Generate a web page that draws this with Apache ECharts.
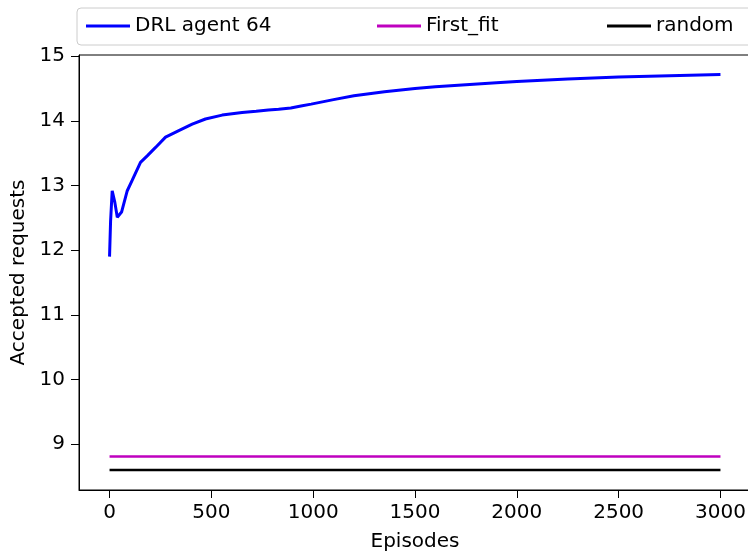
<!DOCTYPE html>
<html>
<head>
<meta charset="utf-8">
<script src="https://cdn.jsdelivr.net/npm/echarts@6/dist/echarts.min.js"></script>
<style>
  html, body { margin: 0; padding: 0; background: #fff; }
  #chart { width: 748px; height: 557px; }
</style>
</head>
<body>
<div id="chart"></div>
<script>
  // values
  const episodes = [0, 5, 13, 26, 38, 59, 87, 111, 152, 185, 226, 275, 340, 406, 471, 553, 651, 720, 780, 830, 890, 940, 990, 1100, 1200, 1350, 1500, 1600, 1750, 1900, 2000, 2250, 2500, 2750, 3000];
  const drlAgent = [11.9, 12.44, 12.92, 12.74, 12.51, 12.59, 12.92, 13.08, 13.36, 13.46, 13.59, 13.75, 13.85, 13.95, 14.03, 14.09, 14.13, 14.15, 14.17, 14.18, 14.2, 14.23, 14.26, 14.33, 14.39, 14.45, 14.5, 14.53, 14.56, 14.59, 14.61, 14.65, 14.68, 14.7, 14.72];
  const flatEpisodes = [0, 3000];
  const firstFit = [8.81, 8.81];
  const randomPolicy = [8.6, 8.6];
  const xTicks = [0, 500, 1000, 1500, 2000, 2500, 3000];
  const yTicks = [9, 10, 11, 12, 13, 14, 15];

  const pairs = (xs, ys) => xs.map((x, i) => [x, ys[i]]);
  const font = 'DejaVu Sans';

  const chart = echarts.init(document.getElementById('chart'));
  const legendBase = {
    top: 16,
    icon: 'rect',
    itemWidth: 44,
    itemHeight: 3,
    textStyle: { fontFamily: font, fontSize: 20, color: '#000' },
    padding: 0
  };
  const option = {
    animation: false,
    backgroundColor: '#fff',
    graphic: [{
      type: 'rect',
      shape: { x: 77, y: 8, width: 690, height: 37, r: 4 },
      style: { fill: '#fff', stroke: '#cccccc', lineWidth: 1 },
      z: -1
    }],
    legend: [
      Object.assign({ left: 86, data: ['DRL agent 64'] }, legendBase),
      Object.assign({ left: 377, data: ['First_fit'] }, legendBase),
      Object.assign({ left: 607, data: ['random'] }, legendBase)
    ],
    grid: {
      left: 79, top: 55, width: 672, height: 435,
      outerBoundsMode: 'none',
      containLabel: false,
      show: true, borderColor: '#000', borderWidth: 1
    },
    xAxis: {
      type: 'value',
      min: -150, max: 3150,
      name: 'Episodes',
      nameLocation: 'middle',
      nameGap: 42,
      nameTextStyle: { fontFamily: font, fontSize: 20, color: '#000' },
      axisLine: { onZero: false, lineStyle: { color: '#000', width: 1 } },
      axisTick: { customValues: xTicks, length: 8, lineStyle: { color: '#000' } },
      axisLabel: { customValues: xTicks, margin: 13, fontFamily: font, fontSize: 20, color: '#000',
        formatter: v => String(v) },
      splitLine: { show: false }
    },
    yAxis: {
      type: 'value',
      min: 8.29, max: 15.02,
      name: 'Accepted requests',
      nameLocation: 'middle',
      nameGap: 48,
      nameTextStyle: { fontFamily: font, fontSize: 20, color: '#000' },
      axisLine: { show: true, onZero: false, lineStyle: { color: '#000', width: 1 } },
      axisTick: { show: true, customValues: yTicks, length: 8, lineStyle: { color: '#000' } },
      axisLabel: { customValues: yTicks, margin: 14, fontFamily: font, fontSize: 20, color: '#000',
        formatter: v => String(v) },
      splitLine: { show: false }
    },
    series: [
      {
        name: 'DRL agent 64', type: 'line', showSymbol: false, symbol: 'none',
        data: pairs(episodes, drlAgent),
        itemStyle: { color: '#0000ff' },
        lineStyle: { color: '#0000ff', width: 3 }
      },
      {
        name: 'First_fit', type: 'line', showSymbol: false, symbol: 'none',
        data: pairs(flatEpisodes, firstFit),
        itemStyle: { color: '#bf00bf' },
        lineStyle: { color: '#bf00bf', width: 2.5 }
      },
      {
        name: 'random', type: 'line', showSymbol: false, symbol: 'none',
        data: pairs(flatEpisodes, randomPolicy),
        itemStyle: { color: '#000' },
        lineStyle: { color: '#000', width: 2.5 }
      }
    ]
  };
  chart.setOption(option);
</script>
</body>
</html>
